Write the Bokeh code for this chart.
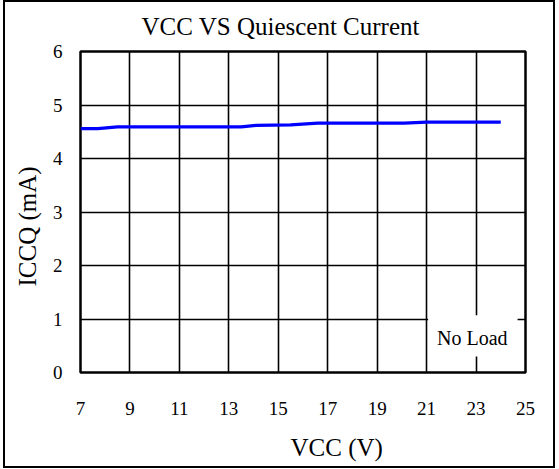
from bokeh.plotting import figure
from bokeh.models import Label, FixedTicker, Range1d, Title
from bokeh.embed import file_html
from bokeh.resources import INLINE

# Data
vcc = [7, 7.7, 8.5, 13.5, 14.1, 15.5, 16.6, 20.1, 21.0, 24.0]
iccq = [4.56, 4.56, 4.59, 4.59, 4.62, 4.63, 4.66, 4.66, 4.68, 4.68]
x_ticks = [7, 9, 11, 13, 15, 17, 19, 21, 23, 25]
y_ticks = [0, 1, 2, 3, 4, 5, 6]

title_text = "VCC VS Quiescent Current"
x_label = "VCC (V)"
y_label = "ICCQ (mA)"
note_text = "No Load"

FONT = "Liberation Serif"

p = figure(width=548, height=464, output_backend="svg", toolbar_location=None,
           x_range=Range1d(7, 25), y_range=Range1d(0, 6),
           min_border_left=75, min_border_right=28, min_border_top=49, min_border_bottom=94,
           frame_width=445, frame_height=321,
           styles={"border": "2px solid black", "margin-left": "3px"})

p.background_fill_color = "white"
p.border_fill_color = "white"
p.outline_line_color = "black"
p.outline_line_width = 2.5

# Title (top)
p.title.text = title_text
p.title.text_font = FONT
p.title.text_font_size = "25px"
p.title.text_font_style = "normal"
p.title.text_color = "black"
p.title.align = "left"
p.title.offset = 61
p.title.vertical_align = "top"
p.title.standoff = 19

for ax in (p.xaxis[0], p.yaxis[0]):
    ax.major_tick_in = 0
    ax.major_tick_out = 0
    ax.minor_tick_in = 0
    ax.minor_tick_out = 0
    ax.axis_line_color = None
    ax.major_label_text_font = FONT
    ax.major_label_text_font_size = "19px"
    ax.major_label_text_color = "black"

p.xaxis[0].ticker = FixedTicker(ticks=x_ticks)
p.yaxis[0].ticker = FixedTicker(ticks=y_ticks)
p.xaxis[0].major_label_standoff = 29
p.yaxis[0].major_label_standoff = 18

p.xgrid[0].ticker = FixedTicker(ticks=x_ticks)
p.ygrid[0].ticker = FixedTicker(ticks=y_ticks)
for g in (p.xgrid[0], p.ygrid[0]):
    g.grid_line_color = "black"
    g.grid_line_width = 1.6
    g.grid_line_alpha = 1.0

# blank spacer between x tick labels and the x axis title
p.add_layout(Title(text=" ", text_font=FONT, text_font_size="1px", standoff=11), "below")

# Axis titles as side titles (allow horizontal offset)
p.add_layout(Title(text=x_label, text_font=FONT, text_font_size="25px", text_font_style="normal",
                   text_color="black", align="left", offset=210, standoff=0), "below")
p.add_layout(Title(text=y_label, text_font=FONT, text_font_size="25px", text_font_style="normal",
                   text_color="black", align="left", offset=86, standoff=14,
                   vertical_align="top"), "left")

# No Load white box (covers grid)
p.quad(left=21.06, right=24.68, bottom=0.30, top=1.07, fill_color="white", line_color=None)

p.line(vcc, iccq, line_color="#0000FF", line_width=3.2)

p.add_layout(Label(x=22.85, y=0.64, text=note_text, text_font=FONT, text_font_size="20px",
                   text_align="center", text_baseline="middle", text_color="black"))

open("out.html", "w").write(file_html(p, INLINE))
